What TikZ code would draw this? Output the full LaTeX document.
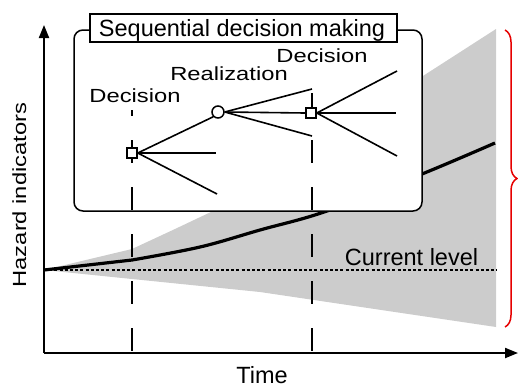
\documentclass[tikz,border=0pt]{standalone}
\usepackage{fontspec}
\setmainfont{Liberation Sans}
\newfontfamily\wideface{Liberation Sans}[FakeStretch=1.25]
\usetikzlibrary{arrows.meta,decorations.pathreplacing}
\definecolor{band}{RGB}{204,204,204}
\definecolor{bracered}{RGB}{230,0,0}
\tikzset{
  bigtext/.style={inner sep=0pt, font=\fontsize{23.5bp}{28bp}\selectfont},
  smalltext/.style={inner sep=0pt, font=\wideface\fontsize{19bp}{22bp}\selectfont},
  axisline/.style={line width=2bp, -{Triangle[length=13bp,width=10bp]}},
  treeline/.style={line width=1.6bp},
  decbox/.style={draw, line width=1.5bp, fill=white, minimum size=10bp, inner sep=0pt},
  chancenode/.style={draw, circle, line width=1.5bp, fill=white, minimum size=12bp, inner sep=0pt},
  stageline/.style={line width=1.2bp, dash pattern=on 23bp off 24bp},
}
\begin{document}
\begin{tikzpicture}[x=1bp,y=-1bp]
\useasboundingbox (0,0) rectangle (518,387);
% uncertainty band
\fill[band] (44,270) -- (132,249) -- (175,229) -- (213,211) -- (496,29)
  -- (496,327) -- (260,292) -- (132,279) -- cycle;
% current level
\coordinate (cl0) at (44,270);
\coordinate (cl1) at (497,270);
\draw[line width=1.3bp, dash pattern=on 3bp off 2.2bp] (cl0) -- (cl1);
% expected trajectory
\draw[line width=3.2bp, line join=round] (44,270) -- (132,260)
  plot[smooth, tension=0.6] coordinates {(132,260) (200,247) (260,230) (327,211) (422,174) (495,143)};
% inset box
\draw[line width=1.5bp, fill=white, rounded corners=9bp] (74,30) rectangle (422,211);
\node[draw, line width=1.5bp, fill=white, minimum width=307bp, minimum height=28bp, inner sep=0pt] (title) at (243.5,28) {};
\node[bigtext, anchor=base] (titletext) at (242,36) {Sequential decision making};
% stage lines
\coordinate (s1top) at (132,110);
\coordinate (s1bot) at (132,351);
\coordinate (s2top) at (312,93);
\coordinate (s2bot) at (312,351);
\draw[stageline, dash phase=17bp] (s1top) -- (s1bot);
\draw[stageline] (s2top) -- (s2bot);
% decision tree
\node[decbox] (d1) at (132,153) {};
\node[chancenode] (r1) at (218,112) {};
\node[decbox] (d2) at (311,113) {};
\coordinate (e11) at (216,153);
\coordinate (e12) at (217,194);
\coordinate (e21) at (312,89);
\coordinate (e22) at (312,136);
\coordinate (e31) at (397,71);
\coordinate (e32) at (396,113);
\coordinate (e33) at (397,156);
\draw[treeline] (d1.east) -- (r1.south west);
\draw[treeline] (d1.east) -- (e11);
\draw[treeline] (d1.east) -- (e12);
\draw[treeline] (r1.east) -- (e21);
\draw[treeline] (r1.east) -- (d2.west);
\draw[treeline] (r1.east) -- (e22);
\draw[treeline] (d2.east) -- (e31);
\draw[treeline] (d2.east) -- (e32);
\draw[treeline] (d2.east) -- (e33);
% labels
\node[smalltext, anchor=base] (lab1) at (135,102) {Decision};
\node[smalltext, anchor=base] (lab2) at (229,80) {Realization};
\node[smalltext, anchor=base] (lab3) at (322,62) {Decision};
\node[bigtext, anchor=base] (curlab) at (411.5,265) {Current level};
\node[bigtext, anchor=base] (xlab) at (262,383) {Time};
\node[smalltext, anchor=base, rotate=90] (ylab) at (26,195) {Hazard indicators};
% axes
\coordinate (org) at (44,353);
\coordinate (ytip) at (44,25);
\coordinate (xtip) at (518,353);
\draw[axisline] (org) -- (ytip);
\draw[axisline] (org) -- (xtip);
% brace
\coordinate (btop) at (505,30);
\coordinate (bbot) at (505,327);
\draw[bracered, line width=1.5bp, decorate, decoration={brace, amplitude=12bp}] (btop) -- (bbot);
\end{tikzpicture}
\end{document}
